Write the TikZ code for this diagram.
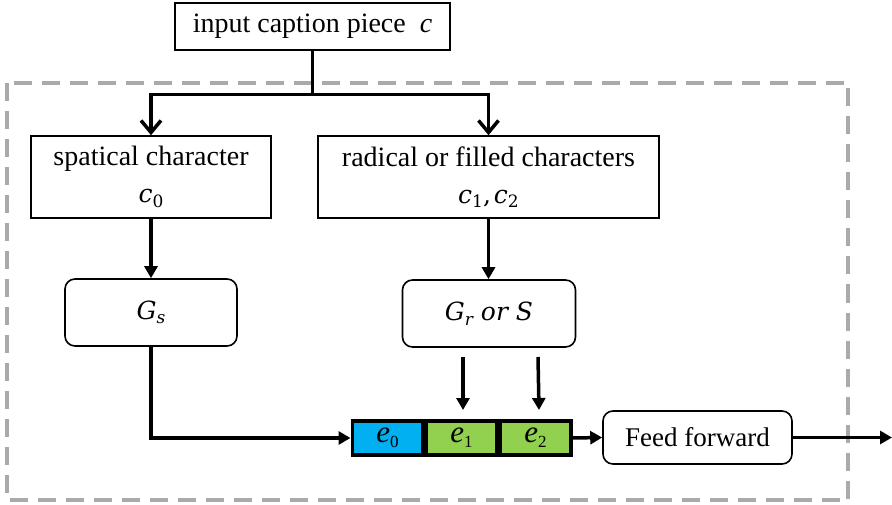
\documentclass[tikz,border=0pt]{standalone}
\usepackage{fontspec}
\setmainfont{Liberation Serif}
\newfontfamily\symfont{DejaVu Serif}
\usetikzlibrary{arrows.meta}

\definecolor{eblue}{RGB}{0,176,240}
\definecolor{egreen}{RGB}{146,208,80}
\definecolor{frame}{RGB}{170,170,170}

% italic symbol with a lowered index
\newcommand{\evec}[1]{\textit{e}\raisebox{-0.35ex}{\fontsize{17}{17}\selectfont #1}}
\newcommand{\sym}[1]{{\symfont\itshape\fontsize{25}{25}\selectfont #1}}
\newcommand{\idx}[1]{\raisebox{-0.35ex}{\symfont\fontsize{17}{17}\selectfont #1}}
\newcommand{\iidx}[1]{\raisebox{-0.35ex}{\symfont\itshape\fontsize{17}{17}\selectfont #1}}
\newcommand{\symsep}{{\symfont\fontsize{25}{25}\selectfont ,\kern3pt}}

\tikzset{
  sqbox/.style={draw, line width=1.6pt, align=center, inner sep=0pt,
    font=\fontsize{28}{37}\selectfont},
  rbox/.style={sqbox, rounded corners=10pt},
  cell/.style={draw, line width=3.5pt, inner sep=0pt, minimum width=70.5pt,
    minimum height=34pt, font=\fontsize{31}{31}\selectfont},
  wire/.style={line width=3.5pt},
  tri/.style={wire, -{Triangle[length=12pt,width=13pt]}},
  barb/.style={wire, -{Straight Barb[length=12pt,width=20pt,line width=3.5pt]}},
  dashframe/.style={draw=frame, line width=4pt, dash pattern=on 18pt off 10pt}
}

\begin{document}
\begin{tikzpicture}[x=1pt,y=-1pt]
\useasboundingbox (0,0) rectangle (892,505);

% dashed module frame
\draw[dashframe] (6.5,83) rectangle (848,500);

% boxes
\node[sqbox, minimum width=275pt, minimum height=47pt] (inp) at (312.5,26.5)
  {input caption piece \ \textit{c}};
\node[sqbox, minimum width=240pt, minimum height=82pt] (spa) at (151,177)
  {spatical character\\ \sym{c}\idx{0}};
\node[sqbox, minimum width=341pt, minimum height=82pt] (rad) at (488.5,177)
  {radical or filled characters\\ \sym{c}\idx{1}\symsep\sym{c}\idx{2}};
\node[rbox, minimum width=172pt, minimum height=67pt] (gs) at (151,312.5)
  {\sym{G}\iidx{s}};
\node[rbox, minimum width=173pt, minimum height=67pt] (gr) at (489,313.5)
  {\sym{G}\iidx{r}\sym{\ or\ S}};

% embedding cells
\node[cell, fill=eblue]  (e0) at (387.5,438) {\evec{0}};
\node[cell, fill=egreen, anchor=west] (e1) at (e0.east) {\evec{1}};
\node[cell, fill=egreen, anchor=west] (e2) at (e1.east) {\evec{2}};

\node[rbox, minimum width=189pt, minimum height=53pt,
  font=\fontsize{27}{30}\selectfont] (ff) at (697.5,437.5) {Feed forward};

% connectors
\coordinate (jl) at (151,94.5);
\coordinate (jr) at (488.5,94.5);
\draw[wire] (inp.south) -- (inp.south |- jl);
\draw[wire] ([xshift=-1.75pt]jl) -- ([xshift=1.75pt]jr);
\draw[barb] (jl) -- (spa.north);
\draw[barb] (jr) -- (rad.north);

\draw[tri] (spa.south) -- (spa.south |- gs.north);
\draw[tri] (rad.south) -- (rad.south |- gr.north);
\draw[tri] (gs.south) |- (e0.west);

\coordinate (a1) at (463,357);  \coordinate (b1) at (463,410);
\coordinate (a2) at (538,357);  \coordinate (b2) at (539,410);
\draw[tri] (a1) -- (b1);
\draw[tri] (a2) -- (b2);

\draw[tri] (e2.east) -- (ff.west);
\coordinate (out) at (892,437.5);
\draw[tri] (ff.east) -- (out);
\end{tikzpicture}
\end{document}
